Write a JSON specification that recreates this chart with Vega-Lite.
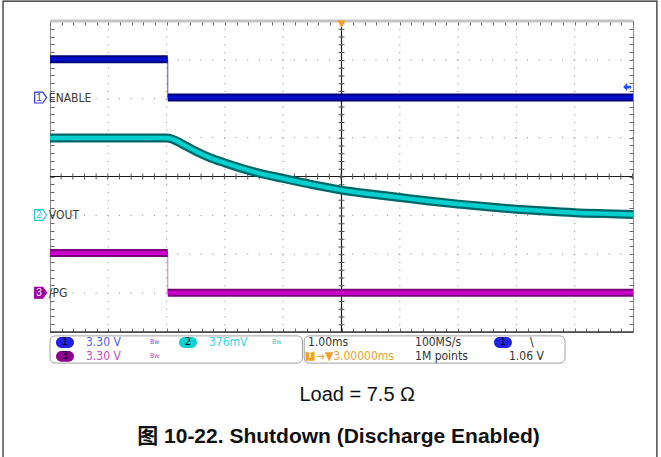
{
 "$schema": "https://vega.github.io/schema/vega-lite/v6.json",
 "width": 583,
 "height": 311,
 "autosize": {"type": "none"},
 "padding": {"left": 50, "top": 21, "right": 28, "bottom": 125},
 "background": "white",
 "config": {"view": {"stroke": "#8c8c8c", "strokeWidth": 1}, "text": {"font": "Liberation Sans Narrow, DejaVu Sans Condensed, Liberation Sans"}},
 "resolve": {"axis": {"x": "independent", "y": "independent"}},
 "datasets": {
  "traces": [
   {"ch": "en", "seg": "a", "t": -2, "v": 3.015},
   {"ch": "en", "seg": "a", "t": 0.02, "v": 3.015},
   {"ch": "en", "seg": "b", "t": 0.02, "v": 2.03},
   {"ch": "en", "seg": "b", "t": 8, "v": 2.03},
   {"ch": "pg", "seg": "a", "t": -2, "v": -1.97},
   {"ch": "pg", "seg": "a", "t": 0.02, "v": -1.97},
   {"ch": "pg", "seg": "b", "t": 0.02, "v": -2.99},
   {"ch": "pg", "seg": "b", "t": 8, "v": -2.99},
   {"ch": "vo", "seg": "a", "t": -2, "v": 0.99},
   {"ch": "vo", "seg": "a", "t": -1, "v": 0.99},
   {"ch": "vo", "seg": "a", "t": 0, "v": 0.99},
   {"ch": "vo", "seg": "a", "t": 0.1, "v": 0.96},
   {"ch": "vo", "seg": "a", "t": 0.25, "v": 0.85},
   {"ch": "vo", "seg": "a", "t": 0.5, "v": 0.65},
   {"ch": "vo", "seg": "a", "t": 0.75, "v": 0.48},
   {"ch": "vo", "seg": "a", "t": 1.0, "v": 0.35},
   {"ch": "vo", "seg": "a", "t": 1.5, "v": 0.12},
   {"ch": "vo", "seg": "a", "t": 2.0, "v": -0.05},
   {"ch": "vo", "seg": "a", "t": 2.5, "v": -0.21},
   {"ch": "vo", "seg": "a", "t": 3.0, "v": -0.35},
   {"ch": "vo", "seg": "a", "t": 3.5, "v": -0.45},
   {"ch": "vo", "seg": "a", "t": 4.0, "v": -0.54},
   {"ch": "vo", "seg": "a", "t": 4.5, "v": -0.63},
   {"ch": "vo", "seg": "a", "t": 5.0, "v": -0.71},
   {"ch": "vo", "seg": "a", "t": 5.5, "v": -0.78},
   {"ch": "vo", "seg": "a", "t": 6.0, "v": -0.84},
   {"ch": "vo", "seg": "a", "t": 6.5, "v": -0.89},
   {"ch": "vo", "seg": "a", "t": 7.0, "v": -0.93},
   {"ch": "vo", "seg": "a", "t": 7.5, "v": -0.955},
   {"ch": "vo", "seg": "a", "t": 8.0, "v": -0.975}
  ],
  "steps": [
   {"ch": "en", "t": 0.02, "v1": 3.015, "v2": 2.03},
   {"ch": "pg", "t": 0.02, "v1": -1.97, "v2": -2.99}
  ],
  "markers": [
   {"n": "1", "name": "ENABLE", "v": 2.03},
   {"n": "2", "name": "VOUT", "v": -0.99},
   {"n": "3", "name": "/PG", "v": -2.99}
  ]
 },
 "layer": [
  {"data": {"values": [{"t": -1}, {"t": 0}, {"t": 1}, {"t": 2}, {"t": 4}, {"t": 5}, {"t": 6}, {"t": 7}]},
   "mark": {"type": "rule", "color": "#8a8a8a", "strokeWidth": 1, "strokeDash": [1, 6.775]},
   "encoding": {"x": {"field": "t", "type": "quantitative", "scale": {"domain": [-2, 8], "nice": false, "zero": false},
     "axis": {"orient": "bottom", "tickCount": 50, "tickSize": -4, "tickColor": "#6a6a6a", "labels": false, "domain": false, "grid": false, "title": null}}}},
  {"data": {"values": [{"d": -3}, {"d": -2}, {"d": -1}, {"d": 1}, {"d": 2}, {"d": 3}]},
   "mark": {"type": "rule", "color": "#8a8a8a", "strokeWidth": 1, "strokeDash": [1, 10.66]},
   "encoding": {"y": {"field": "d", "type": "quantitative", "scale": {"domain": [-4, 4], "nice": false, "zero": false},
     "axis": {"orient": "left", "tickCount": 40, "tickSize": -4, "tickColor": "#6a6a6a", "labels": false, "domain": false, "grid": false, "title": null}}}},
  {"data": {"values": [{}]}, "mark": {"type": "rule", "color": "#c4c4c4", "strokeWidth": 3},
   "encoding": {"y": {"datum": 4, "type": "quantitative", "axis": null}}},
  {"data": {"values": [{}]}, "mark": {"type": "rule", "color": "#3c3c3c", "strokeWidth": 1.5},
   "encoding": {"y": {"datum": -4, "type": "quantitative", "axis": null}}},
  {"data": {"values": [{}]}, "mark": {"type": "rule", "color": "#1a1a1a", "strokeWidth": 1.2},
   "encoding": {"x": {"datum": 3, "type": "quantitative",
     "axis": {"orient": "top", "tickCount": 50, "tickSize": -4, "tickColor": "#6a6a6a", "labels": false, "domain": false, "grid": false, "title": null}}}},
  {"data": {"values": [{}]}, "mark": {"type": "rule", "color": "#1a1a1a", "strokeWidth": 1.2},
   "encoding": {"y": {"datum": 0, "type": "quantitative",
     "axis": {"orient": "right", "tickCount": 40, "tickSize": -4, "tickColor": "#6a6a6a", "labels": false, "domain": false, "grid": false, "title": null}}}},
  {"data": {"values": [{}]}, "mark": {"type": "rule", "color": "#555555", "strokeWidth": 6, "strokeDash": [1, 6.775]},
   "encoding": {"x": {"datum": 3, "type": "quantitative", "axis": null}}},
  {"data": {"values": [{}]}, "mark": {"type": "rule", "color": "#555555", "strokeWidth": 6, "strokeDash": [1, 10.66]},
   "encoding": {"y": {"datum": 0, "type": "quantitative", "axis": null}}},
  {"data": {"name": "steps"}, "mark": {"type": "rule", "strokeWidth": 1},
   "encoding": {"x": {"field": "t", "type": "quantitative", "axis": null},
    "y": {"field": "v1", "type": "quantitative", "axis": null}, "y2": {"field": "v2"},
    "color": {"condition": {"test": "datum.ch == 'en'", "value": "#5a5aa8"}, "value": "#b088b0"}}},
  {"data": {"name": "traces"}, "transform": [{"filter": "datum.ch == 'en'"}],
   "mark": {"type": "line", "color": "#00007a", "strokeWidth": 8, "strokeCap": "butt"},
   "encoding": {"x": {"field": "t", "type": "quantitative", "axis": null}, "y": {"field": "v", "type": "quantitative", "axis": null}, "detail": {"field": "seg"}}},
  {"data": {"name": "traces"}, "transform": [{"filter": "datum.ch == 'en'"}],
   "mark": {"type": "line", "color": "#0010c8", "strokeWidth": 4, "strokeCap": "butt"},
   "encoding": {"x": {"field": "t", "type": "quantitative", "axis": null}, "y": {"field": "v", "type": "quantitative", "axis": null}, "detail": {"field": "seg"}}},
  {"data": {"name": "traces"}, "transform": [{"filter": "datum.ch == 'vo'"}],
   "mark": {"type": "line", "color": "#006767", "strokeWidth": 9, "strokeCap": "butt", "interpolate": "monotone"},
   "encoding": {"x": {"field": "t", "type": "quantitative", "axis": null}, "y": {"field": "v", "type": "quantitative", "axis": null}, "detail": {"field": "seg"}}},
  {"data": {"name": "traces"}, "transform": [{"filter": "datum.ch == 'vo'"}],
   "mark": {"type": "line", "color": "#00cfcf", "strokeWidth": 4.5, "strokeCap": "butt", "interpolate": "monotone"},
   "encoding": {"x": {"field": "t", "type": "quantitative", "axis": null}, "y": {"field": "v", "type": "quantitative", "axis": null}, "detail": {"field": "seg"}}},
  {"data": {"name": "traces"}, "transform": [{"filter": "datum.ch == 'pg'"}],
   "mark": {"type": "line", "color": "#780078", "strokeWidth": 8, "strokeCap": "butt"},
   "encoding": {"x": {"field": "t", "type": "quantitative", "axis": null}, "y": {"field": "v", "type": "quantitative", "axis": null}, "detail": {"field": "seg"}}},
  {"data": {"name": "traces"}, "transform": [{"filter": "datum.ch == 'pg'"}],
   "mark": {"type": "line", "color": "#cc00cc", "strokeWidth": 4, "strokeCap": "butt"},
   "encoding": {"x": {"field": "t", "type": "quantitative", "axis": null}, "y": {"field": "v", "type": "quantitative", "axis": null}, "detail": {"field": "seg"}}},
  {"data": {"name": "markers"},
   "mark": {"type": "point", "shape": "M-1,-0.9 L0.35,-0.9 L1,0 L0.35,0.9 L-1,0.9 Z", "size": 144, "filled": true, "strokeWidth": 1.2, "opacity": 1},
   "encoding": {"x": {"datum": -2.16, "type": "quantitative", "axis": null}, "y": {"field": "v", "type": "quantitative", "axis": null},
    "fill": {"condition": {"test": "datum.n == '3'", "value": "#a000a8"}, "value": "white"},
    "stroke": {"condition": [{"test": "datum.n == '1'", "value": "#2a3ad8"}, {"test": "datum.n == '2'", "value": "#22c4d0"}], "value": "#a000a8"}}},
  {"data": {"name": "markers"},
   "mark": {"type": "text", "fontSize": 10, "align": "center", "baseline": "middle", "font": "Liberation Sans"},
   "encoding": {"x": {"datum": -2.19, "type": "quantitative", "axis": null}, "y": {"field": "v", "type": "quantitative", "axis": null}, "text": {"field": "n"},
    "color": {"condition": [{"test": "datum.n == '1'", "value": "#2a3ad8"}, {"test": "datum.n == '2'", "value": "#22c4d0"}], "value": "white"}}},
  {"data": {"name": "markers"},
   "mark": {"type": "text", "fontSize": 12, "align": "left", "baseline": "middle", "color": "#3a3a3a"},
   "encoding": {"x": {"datum": -2.02, "type": "quantitative", "axis": null}, "y": {"field": "v", "type": "quantitative", "axis": null}, "text": {"field": "name"}}},
  {"data": {"values": [{}]}, "mark": {"type": "point", "shape": "triangle-down", "size": 70, "filled": true, "color": "#f5a020", "opacity": 1},
   "encoding": {"x": {"datum": 3, "type": "quantitative", "axis": null}, "y": {"datum": 3.92, "type": "quantitative", "axis": null}}},
  {"data": {"values": [{}]}, "mark": {"type": "point", "shape": "M-1,0 L0,-1 L0,-0.35 L1,-0.35 L1,0.35 L0,0.35 L0,1 Z", "size": 64, "filled": true, "color": "#1e4dff", "opacity": 1},
   "encoding": {"x": {"datum": 7.9, "type": "quantitative", "axis": null}, "y": {"datum": 2.3, "type": "quantitative", "axis": null}}},
  {"data": {"values": [{}]}, "mark": {"type": "rect", "fill": "white", "fillOpacity": 0, "stroke": "#a0a0a0", "strokeWidth": 1, "cornerRadius": 5},
   "encoding": {"x": {"datum": -2.0, "type": "quantitative", "axis": null}, "x2": {"datum": 2.33}, "y": {"datum": -4.1, "type": "quantitative", "axis": null}, "y2": {"datum": -4.8}}},
  {"data": {"values": [{}]}, "mark": {"type": "rect", "fill": "white", "fillOpacity": 0, "stroke": "#a0a0a0", "strokeWidth": 1, "cornerRadius": 5},
   "encoding": {"x": {"datum": 2.36, "type": "quantitative", "axis": null}, "x2": {"datum": 6.834}, "y": {"datum": -4.1, "type": "quantitative", "axis": null}, "y2": {"datum": -4.8}}},
  {"data": {"values": [{}]}, "mark": {"type": "rect", "fill": "white", "fillOpacity": 0, "stroke": "#222222", "strokeWidth": 1.2},
   "encoding": {"x": {"datum": -2.806, "type": "quantitative", "axis": null}, "x2": {"datum": 8.41}, "y": {"datum": 4.51, "type": "quantitative", "axis": null}, "y2": {"datum": -7.5}}},
  {"data": {"values": [{"n": "1"}]}, "mark": {"type": "point", "shape": "M-0.4,-0.6 L0.4,-0.6 A0.6,0.6 0 0 1 0.4,0.6 L-0.4,0.6 A0.6,0.6 0 0 1 -0.4,-0.6 Z", "size": 324, "filled": true, "color": "#2222e6", "opacity": 1},
   "encoding": {"x": {"datum": -1.743, "type": "quantitative", "axis": null}, "y": {"datum": -4.27, "type": "quantitative", "axis": null}}},
  {"data": {"values": [{"n": "3"}]}, "mark": {"type": "point", "shape": "M-0.4,-0.6 L0.4,-0.6 A0.6,0.6 0 0 1 0.4,0.6 L-0.4,0.6 A0.6,0.6 0 0 1 -0.4,-0.6 Z", "size": 324, "filled": true, "color": "#8e008e", "opacity": 1},
   "encoding": {"x": {"datum": -1.743, "type": "quantitative", "axis": null}, "y": {"datum": -4.625, "type": "quantitative", "axis": null}}},
  {"data": {"values": [{"n": "2"}]}, "mark": {"type": "point", "shape": "M-0.4,-0.6 L0.4,-0.6 A0.6,0.6 0 0 1 0.4,0.6 L-0.4,0.6 A0.6,0.6 0 0 1 -0.4,-0.6 Z", "size": 324, "filled": true, "color": "#10d0d0", "opacity": 1},
   "encoding": {"x": {"datum": 0.367, "type": "quantitative", "axis": null}, "y": {"datum": -4.27, "type": "quantitative", "axis": null}}},
  {"data": {"values": [{"n": "1"}]}, "mark": {"type": "point", "shape": "M-0.4,-0.6 L0.4,-0.6 A0.6,0.6 0 0 1 0.4,0.6 L-0.4,0.6 A0.6,0.6 0 0 1 -0.4,-0.6 Z", "size": 324, "filled": true, "color": "#2222e6", "opacity": 1},
   "encoding": {"x": {"datum": 5.77, "type": "quantitative", "axis": null}, "y": {"datum": -4.27, "type": "quantitative", "axis": null}}},
  {"data": {"values": [{"label": "1"}]}, "mark": {"type": "text", "fontSize": 11, "align": "center", "baseline": "middle", "color": "#000030"},
   "encoding": {"x": {"datum": -1.743, "type": "quantitative", "axis": null}, "y": {"datum": -4.27, "type": "quantitative", "axis": null}, "text": {"field": "label"}}},
  {"data": {"values": [{"label": "3"}]}, "mark": {"type": "text", "fontSize": 11, "align": "center", "baseline": "middle", "color": "#200020"},
   "encoding": {"x": {"datum": -1.743, "type": "quantitative", "axis": null}, "y": {"datum": -4.625, "type": "quantitative", "axis": null}, "text": {"field": "label"}}},
  {"data": {"values": [{"label": "2"}]}, "mark": {"type": "text", "fontSize": 11, "align": "center", "baseline": "middle", "color": "#002020"},
   "encoding": {"x": {"datum": 0.367, "type": "quantitative", "axis": null}, "y": {"datum": -4.27, "type": "quantitative", "axis": null}, "text": {"field": "label"}}},
  {"data": {"values": [{"label": "1"}]}, "mark": {"type": "text", "fontSize": 11, "align": "center", "baseline": "middle", "color": "#000030"},
   "encoding": {"x": {"datum": 5.77, "type": "quantitative", "axis": null}, "y": {"datum": -4.27, "type": "quantitative", "axis": null}, "text": {"field": "label"}}},
  {"data": {"values": [{"label": "3.30 V"}]}, "mark": {"type": "text", "fontSize": 12, "align": "left", "baseline": "middle", "color": "#5b5bef"},
   "encoding": {"x": {"datum": -1.383, "type": "quantitative", "axis": null}, "y": {"datum": -4.27, "type": "quantitative", "axis": null}, "text": {"field": "label"}}},
  {"data": {"values": [{"label": "3.30 V"}]}, "mark": {"type": "text", "fontSize": 12, "align": "left", "baseline": "middle", "color": "#c050c0"},
   "encoding": {"x": {"datum": -1.383, "type": "quantitative", "axis": null}, "y": {"datum": -4.625, "type": "quantitative", "axis": null}, "text": {"field": "label"}}},
  {"data": {"values": [{"label": "Bw"}]}, "mark": {"type": "text", "fontSize": 7, "align": "left", "baseline": "middle", "color": "#5b5bef"},
   "encoding": {"x": {"datum": -0.285, "type": "quantitative", "axis": null}, "y": {"datum": -4.27, "type": "quantitative", "axis": null}, "text": {"field": "label"}}},
  {"data": {"values": [{"label": "Bw"}]}, "mark": {"type": "text", "fontSize": 7, "align": "left", "baseline": "middle", "color": "#c050c0"},
   "encoding": {"x": {"datum": -0.285, "type": "quantitative", "axis": null}, "y": {"datum": -4.625, "type": "quantitative", "axis": null}, "text": {"field": "label"}}},
  {"data": {"values": [{"label": "376mV"}]}, "mark": {"type": "text", "fontSize": 12, "align": "left", "baseline": "middle", "color": "#30d8d8"},
   "encoding": {"x": {"datum": 0.727, "type": "quantitative", "axis": null}, "y": {"datum": -4.27, "type": "quantitative", "axis": null}, "text": {"field": "label"}}},
  {"data": {"values": [{"label": "Bw"}]}, "mark": {"type": "text", "fontSize": 7, "align": "left", "baseline": "middle", "color": "#30c8c8"},
   "encoding": {"x": {"datum": 1.808, "type": "quantitative", "axis": null}, "y": {"datum": -4.27, "type": "quantitative", "axis": null}, "text": {"field": "label"}}},
  {"data": {"values": [{"label": "1.00ms"}]}, "mark": {"type": "text", "fontSize": 12, "align": "left", "baseline": "middle", "color": "#333333"},
   "encoding": {"x": {"datum": 2.425, "type": "quantitative", "axis": null}, "y": {"datum": -4.27, "type": "quantitative", "axis": null}, "text": {"field": "label"}}},
  {"data": {"values": [{"label": "100MS/s"}]}, "mark": {"type": "text", "fontSize": 12, "align": "left", "baseline": "middle", "color": "#333333"},
   "encoding": {"x": {"datum": 4.261, "type": "quantitative", "axis": null}, "y": {"datum": -4.27, "type": "quantitative", "axis": null}, "text": {"field": "label"}}},
  {"data": {"values": [{"label": "\\"}]}, "mark": {"type": "text", "fontSize": 12, "align": "left", "baseline": "middle", "color": "#222222"},
   "encoding": {"x": {"datum": 6.233, "type": "quantitative", "axis": null}, "y": {"datum": -4.27, "type": "quantitative", "axis": null}, "text": {"field": "label"}}},
  {"data": {"values": [{}]}, "mark": {"type": "point", "shape": "square", "size": 81, "filled": true, "color": "#f5a020", "opacity": 1},
   "encoding": {"x": {"datum": 2.46, "type": "quantitative", "axis": null}, "y": {"datum": -4.625, "type": "quantitative", "axis": null}}},
  {"data": {"values": [{"label": "T"}]}, "mark": {"type": "text", "fontSize": 8, "fontWeight": "bold", "align": "center", "baseline": "middle", "color": "white"},
   "encoding": {"x": {"datum": 2.46, "type": "quantitative", "axis": null}, "y": {"datum": -4.625, "type": "quantitative", "axis": null}, "text": {"field": "label"}}},
  {"data": {"values": [{"label": "→▼3.00000ms"}]}, "mark": {"type": "text", "fontSize": 12, "align": "left", "baseline": "middle", "color": "#f0a030"},
   "encoding": {"x": {"datum": 2.56, "type": "quantitative", "axis": null}, "y": {"datum": -4.625, "type": "quantitative", "axis": null}, "text": {"field": "label"}}},
  {"data": {"values": [{"label": "1M points"}]}, "mark": {"type": "text", "fontSize": 12, "align": "left", "baseline": "middle", "color": "#333333"},
   "encoding": {"x": {"datum": 4.261, "type": "quantitative", "axis": null}, "y": {"datum": -4.625, "type": "quantitative", "axis": null}, "text": {"field": "label"}}},
  {"data": {"values": [{"label": "1.06 V"}]}, "mark": {"type": "text", "fontSize": 12, "align": "left", "baseline": "middle", "color": "#333333"},
   "encoding": {"x": {"datum": 5.873, "type": "quantitative", "axis": null}, "y": {"datum": -4.625, "type": "quantitative", "axis": null}, "text": {"field": "label"}}},
  {"data": {"values": [{"label": "Load = 7.5  Ω"}]}, "mark": {"type": "text", "fontSize": 20, "align": "center", "baseline": "middle", "color": "#111111", "font": "Liberation Sans"},
   "encoding": {"x": {"datum": 3.27, "type": "quantitative", "axis": null}, "y": {"datum": -5.617, "type": "quantitative", "axis": null}, "text": {"field": "label"}}},
  {"data": {"values": [{"label": "图 10-22. Shutdown (Discharge Enabled)"}]}, "mark": {"type": "text", "fontSize": 21, "fontWeight": "bold", "align": "center", "baseline": "middle", "color": "#111111", "font": "Liberation Sans, Noto Sans CJK SC"},
   "encoding": {"x": {"datum": 2.948, "type": "quantitative", "axis": null}, "y": {"datum": -6.697, "type": "quantitative", "axis": null}, "text": {"field": "label"}}}
 ]
}
